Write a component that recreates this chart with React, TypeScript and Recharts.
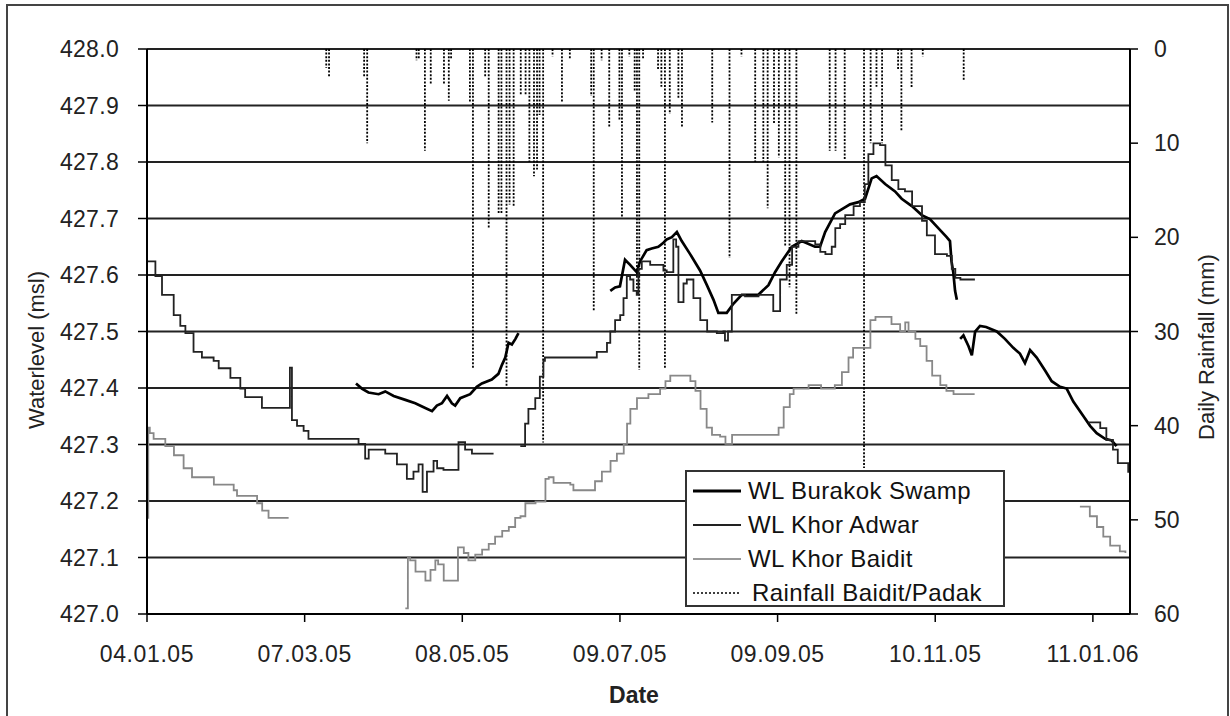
import React from 'react';
import {
  ComposedChart, Line, Bar, XAxis, YAxis, CartesianGrid, Legend, Label,
} from 'recharts';

// ---------- DATA (day offset from 04.01.05, value) ----------
const xTickDays = [0, 62, 124, 186, 248, 310, 372];
const xTickLabels = ['04.01.05', '07.03.05', '08.05.05', '09.07.05', '09.09.05', '10.11.05', '11.01.06'];
const levelTicks = [427.0, 427.1, 427.2, 427.3, 427.4, 427.5, 427.6, 427.7, 427.8, 427.9, 428.0];
const rainTicks = [0, 10, 20, 30, 40, 50, 60];
const legendNames = ['WL Burakok Swamp', 'WL Khor Adwar', 'WL Khor Baidit', 'Rainfall Baidit/Padak'];

const burakokSeg1 = [
  [82.2, 427.408], [84.5, 427.399], [87.1, 427.392], [91.1, 427.389], [93.7, 427.394], [97, 427.386],
  [101.6, 427.379], [105.5, 427.373], [108.8, 427.366], [112.1, 427.359], [114, 427.369], [116, 427.373],
  [118, 427.386], [119.9, 427.373], [121.2, 427.369], [123.2, 427.382], [127.1, 427.389], [129.7, 427.402],
  [131.7, 427.408], [135.6, 427.415], [138.2, 427.425], [139.6, 427.441], [140.9, 427.454], [142.2, 427.48],
  [143.5, 427.477], [144.9, 427.487], [146.1, 427.497],
];
const burakokSeg2 = [
  [182.2, 427.572], [184.1, 427.578], [186, 427.58], [188, 427.627], [190, 427.618], [192.6, 427.605],
  [193.9, 427.624], [196.5, 427.644], [198.5, 427.647], [201.1, 427.65], [203.1, 427.657], [204.4, 427.663],
  [206.4, 427.667], [208.4, 427.676], [210.3, 427.66], [213.6, 427.637], [217.5, 427.608], [220.2, 427.582],
  [222.8, 427.556], [224.7, 427.533], [228, 427.533], [230.6, 427.549], [233.9, 427.565], [240.4, 427.565],
  [244.4, 427.582], [247, 427.605], [249.6, 427.624], [253.6, 427.65], [257.5, 427.66], [262.7, 427.65],
  [264.7, 427.65], [266.7, 427.676], [270.6, 427.709], [273.2, 427.716], [276.5, 427.725], [279.8, 427.729],
  [282.4, 427.735], [285, 427.771], [286.9, 427.775], [290.3, 427.761], [294.2, 427.748], [296.8, 427.735],
  [300.8, 427.722], [304.7, 427.706], [307.9, 427.699], [311.2, 427.683], [314.5, 427.667], [315.8, 427.66],
  [316.4, 427.624], [317.1, 427.605], [317.8, 427.572], [318.5, 427.556],
];
const burakokSeg3 = [
  [319.8, 427.487], [321.1, 427.493], [323.1, 427.474], [324.4, 427.458], [325.7, 427.5], [327.6, 427.51],
  [330, 427.508], [334.2, 427.5], [337.4, 427.487], [340.7, 427.471], [343.3, 427.461], [345.3, 427.444],
  [347.3, 427.467], [349.9, 427.454], [353.2, 427.431], [355.8, 427.412], [359.1, 427.402], [361.7, 427.399],
  [364.3, 427.376], [368.3, 427.35], [370.9, 427.333], [373.5, 427.32], [376.8, 427.31], [379.4, 427.307],
  [381.3, 427.297],
];

const adwarSeg1 = [
  [0.2, 427.624], [3.3, 427.598], [5.9, 427.565], [10.5, 427.529], [13.1, 427.51], [15.1, 427.497],
  [18.3, 427.464], [21.6, 427.454], [26.2, 427.448], [28.2, 427.435], [32.8, 427.418], [36.7, 427.399],
  [38.6, 427.384], [43.1, 427.384], [45.2, 427.365], [55.0, 427.365], [56.2, 427.436], [57.0, 427.343],
  [59, 427.333], [61.6, 427.324], [63.5, 427.31], [76, 427.31], [83.2, 427.301], [85.8, 427.275],
  [87.2, 427.291], [93.7, 427.284], [98.3, 427.265], [102.2, 427.239], [104.8, 427.252], [106.8, 427.265],
  [108.4, 427.216], [110.1, 427.252], [112.7, 427.271], [114.1, 427.258], [116.6, 427.255], [121.3, 427.255],
  [122.5, 427.304], [125.1, 427.291], [127.8, 427.284], [136.3, 427.284],
];
const adwarSeg2 = [
  [146.8, 427.297], [148.7, 427.337], [150, 427.363], [152.7, 427.382], [154.5, 427.42], [155.9, 427.448],
  [156.5, 427.454], [176.3, 427.454], [176.9, 427.464], [180.9, 427.48], [182.2, 427.5], [184.1, 427.52],
  [186.1, 427.529], [187.4, 427.559], [188.7, 427.598], [190, 427.592], [191.3, 427.572], [192.6, 427.565],
  [193.3, 427.611], [194.6, 427.624], [197.9, 427.618], [203.1, 427.608], [204.4, 427.605], [207, 427.663],
  [208.1, 427.65], [209, 427.552], [211, 427.585], [212.3, 427.592], [214.9, 427.559], [217.6, 427.52],
  [220.3, 427.5], [224.1, 427.497], [226.7, 427.5], [227.3, 427.484], [228.5, 427.5], [230, 427.565],
  [235.2, 427.562], [240.5, 427.565], [244.5, 427.565], [246.3, 427.536], [248.2, 427.536], [249, 427.592],
  [251.6, 427.618], [253.7, 427.65], [256.2, 427.66], [260, 427.66], [262.8, 427.654], [264.8, 427.641],
  [266.8, 427.637], [269.3, 427.65], [270.7, 427.683], [272.6, 427.69], [274.6, 427.706], [277.9, 427.722],
  [280.4, 427.729], [282.3, 427.761], [283.7, 427.814], [285.7, 427.833], [288.3, 427.83], [290.4, 427.794],
  [292.9, 427.768], [295.5, 427.752], [298.1, 427.748], [300.9, 427.722], [304.8, 427.696], [306.7, 427.67],
  [309.9, 427.637], [314.6, 427.634], [316.5, 427.611], [317.9, 427.595], [319.9, 427.592], [325.6, 427.592],
];
const adwarSeg3 = [
  [370.2, 427.339], [374.9, 427.329], [377.3, 427.308], [379.9, 427.291], [381.8, 427.267], [385.9, 427.25],
];

const baiditSeg1 = [
  [0.0, 427.17], [0.5, 427.33], [1.1, 427.32], [2.6, 427.31], [5.2, 427.31], [7.2, 427.297], [10.6, 427.281],
  [14.4, 427.258], [17.7, 427.242], [24.9, 427.242], [26.3, 427.229], [31.5, 427.229], [34.1, 427.219],
  [35.4, 427.209], [41.3, 427.209], [43.3, 427.196], [45.3, 427.183], [47.8, 427.17], [55.7, 427.17],
];
const baiditSeg2 = [
  [101.6, 427.01], [102.6, 427.101], [103.5, 427.095], [105.6, 427.075], [107.5, 427.075], [109.5, 427.059],
  [111.5, 427.078], [113.4, 427.095], [114.5, 427.088], [116.7, 427.059], [121.1, 427.059], [122.3, 427.118],
  [124.6, 427.108], [126.4, 427.095], [129.1, 427.105], [131.8, 427.114], [134.4, 427.124], [136.9, 427.137],
  [139.7, 427.147], [142.3, 427.154], [144.8, 427.17], [146.9, 427.173], [148.8, 427.196], [152.8, 427.199],
  [154.6, 427.199], [156.7, 427.239], [158, 427.242], [159.9, 427.232], [166.5, 427.229], [167.7, 427.219],
  [174.9, 427.219], [176.2, 427.235], [178.9, 427.252], [182.3, 427.271], [184.8, 427.284], [187.5, 427.301],
  [188.8, 427.337], [190.1, 427.363], [192.7, 427.382], [197.2, 427.389], [201.8, 427.399], [203.9, 427.412],
  [205.8, 427.422], [212.4, 427.422], [213.7, 427.412], [215.7, 427.395], [217.7, 427.363], [220.1, 427.33],
  [222.2, 427.317], [225.4, 427.314], [227.5, 427.301], [230.1, 427.317], [247.1, 427.317], [248.4, 427.33],
  [250.4, 427.366], [252.8, 427.389], [254.3, 427.399], [260.2, 427.405], [265.1, 427.399], [270.5, 427.405],
  [273.3, 427.428], [275.9, 427.454], [277.7, 427.471], [282.5, 427.471], [284.5, 427.52], [286.5, 427.526],
  [290.2, 427.526], [292.8, 427.513], [296.2, 427.5], [298.2, 427.516], [299.5, 427.5], [302.2, 427.487],
  [304.1, 427.474], [306.6, 427.448], [308.8, 427.422], [312, 427.405], [314.4, 427.395], [317.2, 427.389],
  [325.5, 427.389],
];
const baiditSeg3 = [
  [366.9, 427.19], [370.8, 427.173], [373.6, 427.154], [376.1, 427.137], [378.8, 427.121], [382.6, 427.111],
  [384.8, 427.108],
];

const rainfall = [
  [70.5, 2], [71.6, 3], [85.4, 3], [86.6, 10], [106.0, 1.2], [106.9, 1], [109.3, 10.8], [111.6, 3.7],
  [116.8, 3.7], [118.7, 5.5], [119.6, 1], [127.0, 5.7], [128.2, 33.9], [133.0, 3], [134.4, 19],
  [138.3, 17.5], [139.4, 17.5], [141.4, 35.9], [142.6, 16.5], [144.2, 16.7], [147.0, 4.9], [148.9, 4.9],
  [150.4, 12], [152.2, 13.5], [153.4, 12.8], [154.4, 7], [155.8, 41.8], [159.5, 0.8], [163.2, 5.7],
  [166.3, 1], [174.7, 5], [175.7, 27.8], [178.8, 1.2], [181.8, 8.4], [185.8, 7.5], [186.8, 17.8],
  [189.7, 0.8], [191.8, 4.5], [192.7, 25.7], [193.6, 34.1], [195.1, 1], [201.0, 2.2], [202.3, 4],
  [203.7, 33.9], [205.6, 6.9], [209.0, 5.3], [210.4, 8.4], [222.3, 7.8], [229.1, 22.2], [233.8, 0.8],
  [239.2, 12], [242.4, 12], [244.1, 16.9], [246.6, 8], [248.5, 11.5], [251.0, 21], [252.7, 25.3],
  [255.4, 28.2], [268.5, 10.8], [270.8, 10.8], [274.4, 11.8], [282.0, 44.5], [284.6, 10], [286.9, 4],
  [289.1, 10], [295.4, 2.2], [296.7, 8.8], [300.7, 4.1], [305.1, 0.8], [321.2, 3.3],
];

// ---------- build table ----------
const seriesSegments: Record<string, number[][][]> = {
  burakok: [burakokSeg1, burakokSeg2, burakokSeg3],
  adwar: [adwarSeg1, adwarSeg2, adwarSeg3],
  baidit: [baiditSeg1, baiditSeg2, baiditSeg3],
};

const rowMap = new Map<number, any>();
const put = (day: number, key: string, val: number) => {
  const k = Math.round(day * 10) / 10;
  let r = rowMap.get(k);
  if (!r) { r = { day: k }; rowMap.set(k, r); }
  r[key] = val;
};
Object.entries(seriesSegments).forEach(([name, segs]) => {
  segs.forEach((seg, i) => seg.forEach(([d, v]) => put(d, `${name}${i}`, v)));
});
rainfall.forEach(([d, v]) => put(d, 'rain', v));
const tableData = Array.from(rowMap.values()).sort((a, b) => a.day - b.day);

const FONT = '"Liberation Sans", Arial, Helvetica, sans-serif';

const styles: Record<string, { stroke: string; width: number; type: any }> = {
  burakok: { stroke: '#000', width: 2.7, type: 'linear' },
  adwar: { stroke: '#222', width: 1.8, type: 'stepAfter' },
  baidit: { stroke: '#888', width: 1.8, type: 'stepAfter' },
};

const RainShape = (props: any) => {
  const { x, y, width, height, payload } = props;
  if (!payload || payload.rain == null || !isFinite(y) || !isFinite(height)) return null;
  const cx = x + width / 2;
  const y1 = Math.min(y, y + height);
  const y2 = Math.max(y, y + height);
  return <line x1={cx} x2={cx} y1={y1} y2={y2} stroke="#000" strokeWidth={1.8} strokeDasharray="2 1.6" />;
};

const legendSamples = [
  { stroke: '#000', width: 3, dash: undefined },
  { stroke: '#222', width: 2, dash: undefined },
  { stroke: '#999', width: 2, dash: undefined },
  { stroke: '#000', width: 1.5, dash: '2 2' },
];

const LegendBox = () => (
  <div style={{
    width: 320, height: 137, boxSizing: 'border-box', border: '2px solid #333', background: '#fff',
    fontFamily: FONT, fontSize: 24, letterSpacing: 0.4, color: '#111', paddingTop: 2,
  }}>
    {legendNames.map((name, i) => (
      <div key={name} style={{ display: 'flex', alignItems: 'center', height: 34, paddingLeft: 6 }}>
        <svg width={48} height={10} style={{ display: 'block' }}>
          <line x1={0} x2={48} y1={5} y2={5} stroke={legendSamples[i].stroke}
            strokeWidth={legendSamples[i].width} strokeDasharray={legendSamples[i].dash} />
        </svg>
        <span style={{ marginLeft: i === 3 ? 11 : 7, whiteSpace: 'nowrap' }}>{name}</span>
      </div>
    ))}
  </div>
);

export default function App() {
  return (
    <div style={{ position: 'absolute', left: 0, top: 0, width: 1230, height: 716, overflow: 'hidden', background: '#fff' }}>
      <div style={{
        position: 'absolute', left: 6, top: 4, width: 1223, height: 740, boxSizing: 'border-box',
        border: '2px solid #444',
      }} />
      <div style={{ position: 'absolute', left: 0, top: 0 }}>
        <ComposedChart width={1230} height={716} data={tableData}
          margin={{ top: 49, right: 0, bottom: 0, left: 0 }}>
          <CartesianGrid yAxisId="left" vertical={false} stroke="#222" strokeWidth={1.9} />
          <XAxis dataKey="day" type="number" domain={[0, 386.6]} allowDataOverflow ticks={xTickDays}
            tickFormatter={(v: number) => xTickLabels[xTickDays.indexOf(v)] ?? ''}
            height={102} tickSize={8} tickMargin={24} interval={0}
            axisLine={{ stroke: '#000', strokeWidth: 2 }} tickLine={{ stroke: '#000', strokeWidth: 1.5 }}
            tick={{ fontFamily: FONT, fontSize: 23, fill: '#222', letterSpacing: 0.6 }}>
            <Label content={() => (
              <text x={634} y={695} textAnchor="middle" dominantBaseline="central"
                fontFamily={FONT} fontSize={23} fontWeight="bold" fill="#222">Date</text>
            )} />
          </XAxis>
          <YAxis yAxisId="left" domain={[427, 428]} ticks={levelTicks} allowDataOverflow
            tickFormatter={(v: number) => v.toFixed(1)} width={147} tickSize={9} tickMargin={19}
            axisLine={{ stroke: '#000', strokeWidth: 2 }} tickLine={{ stroke: '#000', strokeWidth: 1.5 }}
            tick={{ fontFamily: FONT, fontSize: 23, fill: '#222', letterSpacing: 0.3 }} interval={0}>
            <Label content={() => (
              <text x={36} y={350} transform="rotate(-90 36 350)" textAnchor="middle" dominantBaseline="central"
                fontFamily={FONT} fontSize={22} fill="#222">Waterlevel (msl)</text>
            )} />
          </YAxis>
          <YAxis yAxisId="right" orientation="right" domain={[0, 60]} reversed ticks={rainTicks}
            allowDataOverflow width={100} tickSize={8} tickMargin={16} interval={0}
            axisLine={{ stroke: '#000', strokeWidth: 2 }} tickLine={{ stroke: '#000', strokeWidth: 1.5 }}
            tick={{ fontFamily: FONT, fontSize: 23, fill: '#222' }}>
            <Label content={() => (
              <text x={1206} y={347} transform="rotate(-90 1206 347)" textAnchor="middle" dominantBaseline="central"
                fontFamily={FONT} fontSize={22} fill="#222">Daily Rainfall (mm)</text>
            )} />
          </YAxis>
          <Bar yAxisId="right" dataKey="rain" barSize={2} shape={RainShape} isAnimationActive={false} />
          {Object.entries(seriesSegments).map(([name, segs]) =>
            segs.map((_, i) => (
              <Line key={`${name}${i}`} yAxisId="left" dataKey={`${name}${i}`} type={styles[name].type}
                stroke={styles[name].stroke} strokeWidth={styles[name].width} dot={false} activeDot={false}
                connectNulls isAnimationActive={false} legendType="none" />
            )),
          )}
          <Legend layout="vertical" align="center" verticalAlign="middle" width={320} height={137}
            wrapperStyle={{ left: 685, top: 470, width: 320, height: 137 }} content={LegendBox} />
        </ComposedChart>
      </div>
    </div>
  );
}
